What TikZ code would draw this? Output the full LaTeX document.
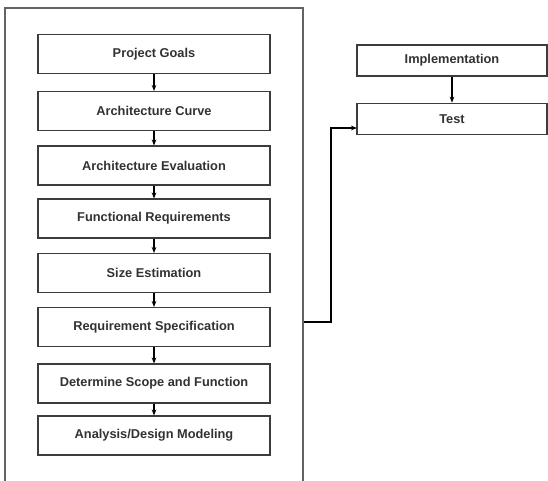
\documentclass[tikz,border=0pt]{standalone}
\usepackage{fontspec}
\setmainfont{Liberation Sans}
\usetikzlibrary{arrows.meta}
\definecolor{edge}{RGB}{60,60,60}
\definecolor{txt}{RGB}{50,50,50}
\tikzset{
  stepbox/.style={draw=edge, line width=1.1pt, fill=white, minimum width=174pt, minimum height=29pt, inner sep=0pt, font=\fontsize{9.6}{11}\selectfont\bfseries, text=txt},
  sidebox/.style={draw=edge, line width=1.1pt, fill=white, minimum width=142.5pt, minimum height=23.5pt, inner sep=0pt, font=\fontsize{9.6}{11}\selectfont\bfseries, text=txt},
  frame/.style={draw=edge!80, line width=0.8pt, minimum width=223.5pt, minimum height=471pt, inner sep=0pt},
  link/.style={draw=black, line width=0.8pt, -{Stealth[length=4.5pt,width=3.5pt]}}
}
\begin{document}
\begin{tikzpicture}[x=0.75pt, y=-0.75pt]
\useasboundingbox (0,0) rectangle (548,480);
\fill[white] (0,0) rectangle (548,480);
\node[frame] (fr) at (154,322) {};
\node[stepbox] (b1) at (154,54) {Project Goals};
\node[stepbox] (b2) at (154,111) {Architecture Curve};
\node[stepbox] (b3) at (154,165.5) {Architecture Evaluation};
\node[stepbox] (b4) at (154,218.5) {Functional Requirements};
\node[stepbox] (b5) at (154,273) {Size Estimation};
\node[stepbox] (b6) at (154,327) {Requirement Specification};
\node[stepbox] (b7) at (154,383.5) {Determine Scope and Function};
\node[stepbox] (b8) at (154,435.5) {Analysis/Design Modeling};
\node[sidebox] (impl) at (452,60.5) {Implementation};
\node[sidebox] (test) at (452,119) {Test};
\coordinate (tin) at (357,128);
\draw[link] (b1) -- (b2);
\draw[link] (b2) -- (b3);
\draw[link] (b3) -- (b4);
\draw[link] (b4) -- (b5);
\draw[link] (b5) -- (b6);
\draw[link] (b6) -- (b7);
\draw[link] (b7) -- (b8);
\draw[link] (impl) -- (test);
\draw[link] (fr.east) -- (331,322) |- (tin);
\end{tikzpicture}
\end{document}
